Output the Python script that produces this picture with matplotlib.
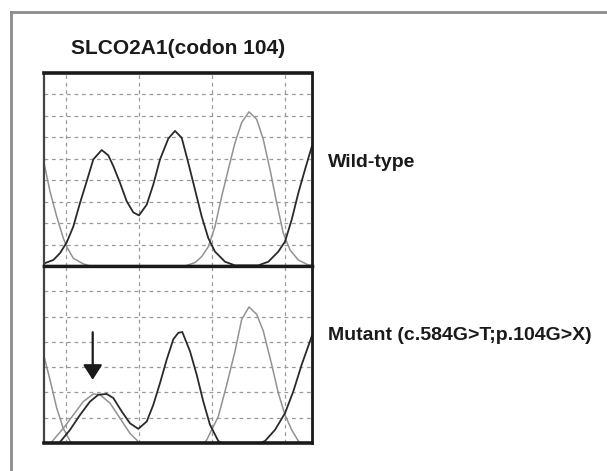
import matplotlib
matplotlib.use('Agg')
import matplotlib.pyplot as plt
from matplotlib.lines import Line2D

plt.rcParams['font.family'] = ['Liberation Sans', 'DejaVu Sans']

# chromatogram traces (x = scan position, y = signal)
wt_gray1_x = [0, 6, 12.7, 19.3, 22.7, 29.3, 39.3, 46]
wt_gray1_y = [4.81, 3.48, 2.31, 1.3, 0.9, 0.36, 0.1, 0]

wt_black_x = [0, 9.3, 16, 22.7, 29.3, 36, 42.7, 49.3, 57.7, 64.3, 69.3, 76, 82.7, 89.3, 95,
              102.7, 109.3, 116, 124.3, 131, 137.7, 144.3, 151, 157.7, 164.3, 171, 181, 191,
              214.3, 224.3, 234.3, 241, 247.7, 254.3, 261, 268]
wt_black_y = [0.12, 0.28, 0.6, 1.1, 1.84, 2.94, 3.95, 4.97, 5.41, 5.16, 4.66, 3.88, 3.02, 2.5, 2.36,
              2.86, 3.8, 4.97, 5.94, 6.3, 5.98, 4.81, 3.56, 2.31, 1.3, 0.67, 0.2, 0.03,
              0.03, 0.2, 0.67, 1.14, 2.16, 3.4, 4.5, 5.6]

wt_gray2_x = [141, 151, 157.7, 164.3, 171, 177.7, 184.3, 191, 197.7, 205, 212.7, 219.3, 226,
              232.7, 239.3, 246, 254.3, 264.3, 268]
wt_gray2_y = [0, 0.16, 0.44, 0.9, 1.84, 3.25, 4.5, 5.75, 6.69, 7.19, 6.84, 5.9, 4.5,
              2.94, 1.53, 0.75, 0.28, 0.05, 0.02]

mut_gray1_x = [0, 6, 12.7, 19.3, 26, 28]
mut_gray1_y = [3.43, 2.5, 1.38, 0.58, 0.08, 0]

mut_grayS_x = [7, 9.3, 19.3, 29.3, 39.3, 49.3, 56, 66, 76, 86, 92.7, 95]
mut_grayS_y = [0, 0.12, 0.58, 1.11, 1.64, 1.94, 1.91, 1.58, 0.98, 0.38, 0.12, 0]

mut_black_x = [15, 17.7, 26, 36, 46, 54.3, 62.7, 69.3, 77.7, 86, 94.3, 102.7, 109.3, 116, 122.7,
               129.3, 134.3, 138.3, 146, 152.7, 159.3, 166, 174.3, 178, 216, 221, 231, 241,
               249.3, 257.7, 268]
mut_black_y = [0, 0.12, 0.52, 1.11, 1.64, 1.91, 1.94, 1.78, 1.25, 0.78, 0.56, 0.85, 1.51, 2.37, 3.3,
               4.1, 4.36, 4.39, 3.63, 2.7, 1.64, 0.72, 0.08, 0, 0, 0.08, 0.52, 1.18,
               2.04, 3.1, 4.25]

mut_gray2_x = [160, 162.7, 174.3, 182.7, 191, 197.7, 205, 212.7, 219.3, 227.7, 234.3, 241,
               247.7, 254.3, 257]
mut_gray2_y = [0, 0.12, 1.05, 2.3, 3.63, 4.89, 5.38, 5.09, 4.43, 3.1, 1.98, 1.11,
               0.52, 0.08, 0]

grid_x = [22, 95, 168, 241]

BLACK = '#2a2a2a'
GRAY = '#929292'


def style_panel(ax, ymax):
    ax.set_xlim(0, 268)
    ax.set_ylim(0, ymax)
    for gx in grid_x:
        ax.axvline(gx, color='#9a9a9a', lw=0.9, ls=(0, (3, 3)), zorder=0)
    for gy in range(1, ymax):
        ax.axhline(gy, color='#9a9a9a', lw=0.9, ls=(0, (3, 3)), zorder=0)
    ax.set_xticks([])
    ax.set_yticks([])
    for s in ax.spines.values():
        s.set_color('#1a1a1a')
        s.set_linewidth(2.0)
    ax.spines['left'].set_color('#444444')
    ax.spines['left'].set_linewidth(1.6)


fig = plt.figure(figsize=(6.07, 4.71), dpi=100)

ax1 = fig.add_axes([0.0725, 0.4352, 0.4415, 0.4098])
ax2 = fig.add_axes([0.0725, 0.0594, 0.4415, 0.3758])

style_panel(ax1, 9)
style_panel(ax2, 7)
ax1.spines['top'].set_linewidth(2.6)
ax1.spines['bottom'].set_linewidth(2.4)
ax2.spines['top'].set_linewidth(2.4)
ax2.spines['bottom'].set_linewidth(2.6)

ax1.plot(wt_gray1_x, wt_gray1_y, color=GRAY, lw=1.1)
ax1.plot(wt_gray2_x, wt_gray2_y, color=GRAY, lw=1.1)
ax1.plot(wt_black_x, wt_black_y, color=BLACK, lw=1.3)

ax2.plot(mut_gray1_x, mut_gray1_y, color=GRAY, lw=1.1)
ax2.plot(mut_grayS_x, mut_grayS_y, color=GRAY, lw=1.1)
ax2.plot(mut_gray2_x, mut_gray2_y, color=GRAY, lw=1.1)
ax2.plot(mut_black_x, mut_black_y, color=BLACK, lw=1.3)

ax2.annotate('', xy=(48.7, 2.5), xytext=(48.7, 4.38),
             arrowprops=dict(arrowstyle='-|>,head_length=0.5,head_width=0.32',
                             mutation_scale=18, lw=1.6, color='#1a1a1a',
                             shrinkA=0, shrinkB=0))

# outer frame of the figure panel
fig.add_artist(Line2D([0.018, 1.0], [0.9745, 0.9745], color='#8c8c8c', lw=2.0))
fig.add_artist(Line2D([0.018, 0.018], [0.0, 0.9745], color='#8c8c8c', lw=2.0))

fig.text(0.2935, 0.897, 'SLCO2A1(codon 104)', ha='center', va='center',
         fontsize=15, fontweight='bold', color='#1a1a1a')
fig.text(0.540, 0.656, 'Wild-type', ha='left', va='center',
         fontsize=14, fontweight='bold', color='#1a1a1a')
fig.text(0.540, 0.287, 'Mutant (c.584G>T;p.104G>X)', ha='left', va='center',
         fontsize=14, fontweight='bold', color='#1a1a1a')

fig.savefig('out.png', dpi=100, facecolor='white')
